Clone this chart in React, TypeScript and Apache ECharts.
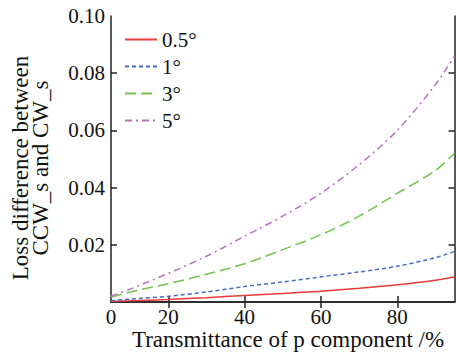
import React, { useEffect, useRef } from "react";
import * as echarts from "echarts";

const transmittance = [5, 10, 20, 30, 40, 50, 60, 70, 80, 90, 95];
const loss05 = [0.0002, 0.0004, 0.0009, 0.0015, 0.0023, 0.003, 0.0038, 0.0048, 0.006, 0.0076, 0.0088];
const loss1 = [0.0004, 0.001, 0.002, 0.0035, 0.0054, 0.007, 0.0088, 0.0105, 0.0125, 0.0155, 0.0177];
const loss3 = [0.0017, 0.0035, 0.0064, 0.0097, 0.0134, 0.0183, 0.0235, 0.03, 0.038, 0.046, 0.052];
const loss5 = [0.002, 0.0045, 0.01, 0.016, 0.023, 0.03, 0.038, 0.048, 0.06, 0.076, 0.086];
const seriesNames = ["0.5°", "1°", "3°", "5°"];
const xTickValues = [20, 40, 60, 80];
const xLabelValues = [5, 20, 40, 60, 80];
const yTickValues = [0.02, 0.04, 0.06, 0.08];
const yLabelValues = [0.02, 0.04, 0.06, 0.08, 0.1];

const FONT = "Liberation Serif";
const AXIS_COLOR = "#222";

export default function App() {
  const ref = useRef<HTMLDivElement>(null);
  useEffect(() => {
    if (!ref.current) return;
    const chart = echarts.init(ref.current, undefined, { renderer: "svg" });
    const axisLine = { show: true, lineStyle: { color: AXIS_COLOR, width: 1.5 } };
    const tickStyle = { color: AXIS_COLOR, width: 1.5 };
    const allSeries = [loss05, loss1, loss3, loss5];
    const colors = ["#ec3a3a", "#4a68c6", "#72c44e", "#b674bf"];
    const dashes: any[] = ["solid", [4, 3], [11, 5], [7, 4, 2, 4]];
    const labelText = { fontFamily: FONT, fontSize: 21, color: "#111", fontWeight: "normal" as const };
    chart.setOption({
      animation: false,
      backgroundColor: "#fff",
      textStyle: { fontFamily: FONT },
      grid: { left: 111, right: 1.5, top: 16, bottom: 52, containLabel: false },
      legend: {
        orient: "vertical",
        left: 124,
        top: 29,
        padding: 0,
        itemWidth: 32,
        itemHeight: 14,
        itemGap: 6,
        data: seriesNames,
        itemStyle: { opacity: 0 },
        textStyle: { ...labelText, lineHeight: 21 },
      },
      xAxis: [
        {
          type: "value",
          min: 5,
          max: 95,
          position: "bottom",
          axisLine,
          axisTick: { show: true, inside: true, length: 6, customValues: xTickValues, lineStyle: tickStyle },
          axisLabel: {
            show: true,
            customValues: xLabelValues,
            formatter: (v: number) => (v === 5 ? "0" : String(v)),
            ...labelText,
            lineHeight: 17,
            margin: 6,
          },
          splitLine: { show: false },
        },
        {
          type: "value",
          min: 5,
          max: 95,
          position: "top",
          axisLine,
          axisTick: { show: true, inside: true, length: 6, customValues: xTickValues, lineStyle: tickStyle },
          axisLabel: { show: false },
          splitLine: { show: false },
        },
      ],
      yAxis: [
        {
          type: "value",
          min: 0,
          max: 0.1,
          position: "left",
          axisLine,
          axisTick: { show: true, inside: true, length: 6, customValues: yTickValues, lineStyle: tickStyle },
          axisLabel: {
            show: true,
            customValues: yLabelValues,
            formatter: (v: number) => v.toFixed(2),
            ...labelText,
            margin: 6,
          },
          splitLine: { show: false },
        },
        {
          type: "value",
          min: 0,
          max: 0.1,
          position: "right",
          axisLine,
          axisTick: { show: true, inside: true, length: 6, customValues: yTickValues, lineStyle: tickStyle },
          axisLabel: { show: false },
          splitLine: { show: false },
        },
      ],
      series: allSeries.map((arr, i) => ({
        type: "line",
        name: seriesNames[i],
        xAxisIndex: 0,
        yAxisIndex: 0,
        data: transmittance.map((t, j) => [t, arr[j]]),
        symbol: "none",
        smooth: 0.3,
        color: colors[i],
        lineStyle: { color: colors[i], width: 1.5, type: dashes[i] },
      })),
      graphic: [
        {
          type: "text",
          x: 30,
          y: 168,
          rotation: Math.PI / 2,
          style: {
            text: "Loss difference between\nCCW_s and CW_s",
            fontFamily: FONT,
            fontSize: 23,
            lineHeight: 20,
            fill: "#111",
            textAlign: "center",
            textVerticalAlign: "middle",
            align: "center",
            verticalAlign: "middle",
          },
        },
        {
          type: "text",
          x: 288,
          y: 339,
          style: {
            text: "Transmittance of p component /%",
            fontFamily: FONT,
            fontSize: 23,
            lineHeight: 17,
            fill: "#111",
            textAlign: "center",
            textVerticalAlign: "middle",
            align: "center",
            verticalAlign: "middle",
          },
        },
      ],
    });
    return () => chart.dispose();
  }, []);
  return (
    <div
      ref={ref}
      style={{ position: "absolute", left: 0, top: 0, width: 456, height: 354, background: "#fff" }}
    />
  );
}
